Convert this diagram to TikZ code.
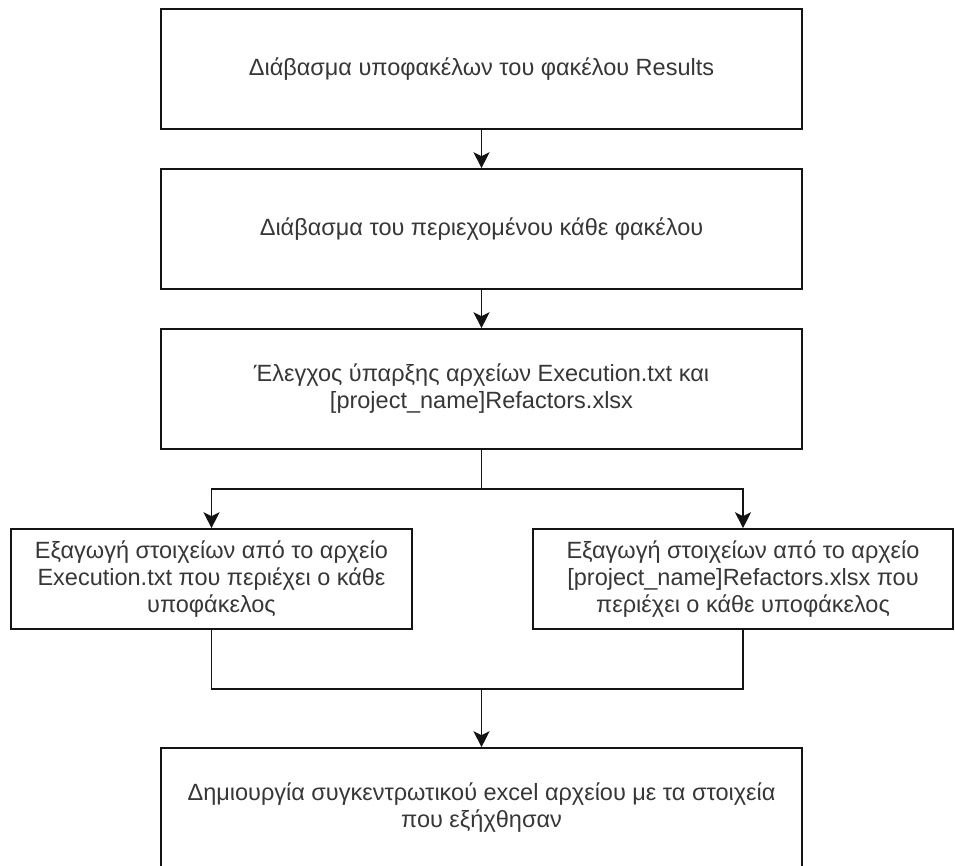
\documentclass[tikz,border=0pt]{standalone}
\usepackage{fontspec}
\setmainfont{Liberation Sans}
\usepackage{tikz}
\usetikzlibrary{arrows.meta, positioning}
\definecolor{boxline}{RGB}{20, 20, 20}
\definecolor{boxtext}{RGB}{55, 55, 55}

\begin{document}
\begin{tikzpicture}[x=1pt, y=-1pt,
    procbox/.style={draw=boxline, line width=1.6pt, rectangle, fill=white, text=boxtext,
        align=center, font=\fontsize{23.5}{27}\selectfont, inner sep=0pt},
    link/.style={draw=boxline, line width=1.6pt},
    flow/.style={link, -{Stealth[width=16pt, length=16pt, inset=4pt]}}]
    \useasboundingbox[fill=white] (0,0) rectangle (955,865);

    \node[procbox, minimum width=641pt, minimum height=120pt] (readdirs) at (481.5,69) {Διάβασμα υποφακέλων του φακέλου Results};
    \node[procbox, minimum width=641pt, minimum height=120pt] (readcontent) at (481.5,229) {Διάβασμα του περιεχομένου κάθε φακέλου};
    \node[procbox, minimum width=641pt, minimum height=120pt] (checkfiles) at (481.5,389) {Έλεγχος ύπαρξης αρχείων Execution.txt και\\ {[project\_name]}Refactors.xlsx};

    \node[procbox, minimum width=401pt, minimum height=100pt] (exectxt) at (211.5,579) {Εξαγωγή στοιχείων από το αρχείο\\ Execution.txt που περιέχει ο κάθε\\ υποφάκελος};
    \node[procbox, minimum width=420pt, minimum height=100pt] (refxlsx) at (743,579) {Εξαγωγή στοιχείων από το αρχείο\\ {[project\_name]}Refactors.xlsx που\\ περιέχει ο κάθε υποφάκελος};

    \node[procbox, minimum width=641pt, minimum height=120pt] (summary) at (481.5,808) {Δημιουργία συγκεντρωτικού excel αρχείου με τα στοιχεία\\ που εξήχθησαν};

    \coordinate (split) at (481.5,489);
    \coordinate (merge) at (481.5,689);

    \draw[flow] (readdirs) -- (readcontent);
    \draw[flow] (readcontent) -- (checkfiles);
    \draw[link] (checkfiles) -- (split);
    \draw[flow] (split) -| (exectxt.north);
    \draw[flow] (split) -| (refxlsx.north);
    \draw[link] (exectxt.south) |- (merge) -| (refxlsx.south);
    \draw[flow] (merge) -- (summary);
\end{tikzpicture}
\end{document}
